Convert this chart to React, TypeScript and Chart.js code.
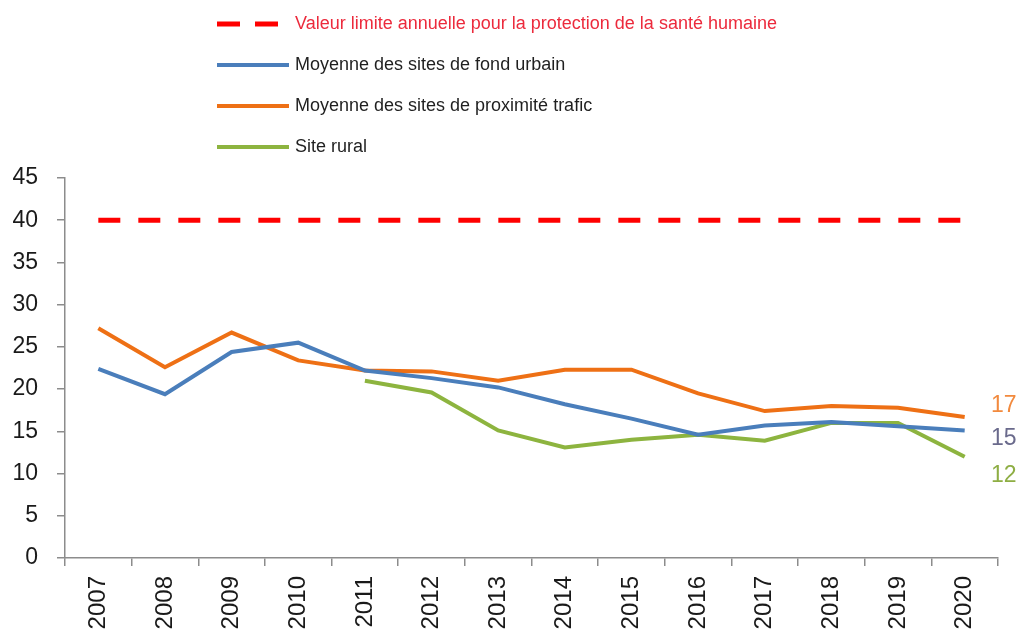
import React, { useEffect, useRef } from 'react';
import { Chart, registerables } from 'chart.js';
Chart.register(...registerables);

const years = ['2007', '2008', '2009', '2010', '2011', '2012', '2013', '2014', '2015', '2016', '2017', '2018', '2019', '2020'];
const limiteAnnuelle = [40, 40, 40, 40, 40, 40, 40, 40, 40, 40, 40, 40, 40, 40];
const fondUrbain = [22.4, 19.4, 24.4, 25.5, 22.2, 21.3, 20.2, 18.2, 16.5, 14.6, 15.7, 16.1, 15.6, 15.1];
const proximiteTrafic = [27.2, 22.6, 26.7, 23.4, 22.2, 22.1, 21.0, 22.3, 22.3, 19.5, 17.4, 18.0, 17.8, 16.7];
const siteRural = [null, null, null, null, 21.0, 19.6, 15.1, 13.1, 14.0, 14.6, 13.9, 16.0, 16.0, 12.0];
const yTicks = [0, 5, 10, 15, 20, 25, 30, 35, 40, 45];
const endLabels = ['17', '15', '12'];

const legendLabels = [
  'Valeur limite annuelle pour la protection de la santé humaine',
  'Moyenne des sites de fond urbain',
  'Moyenne des sites de proximité trafic',
  'Site rural',
];

const RED = '#ff0000';
const BLUE = '#4a7ebb';
const ORANGE = '#ee7015';
const GREEN = '#8db43f';

const overlay = {
  id: 'overlay',
  afterDraw(chart: any) {
    const ctx = chart.ctx as CanvasRenderingContext2D;
    const y = chart.scales.y;
    const area = chart.chartArea;
    // legend
    const rowsY = [24, 65, 106, 147];
    const sampleColors = [RED, BLUE, ORANGE, GREEN];
    const textColors = ['#ec2a3c', '#1f1f1f', '#1f1f1f', '#1f1f1f'];
    ctx.save();
    ctx.font = '18px "Liberation Sans", Arial, sans-serif';
    ctx.textBaseline = 'middle';
    ctx.textAlign = 'left';
    legendLabels.forEach((lbl, i) => {
      const ry = rowsY[i];
      ctx.strokeStyle = sampleColors[i];
      ctx.lineCap = 'butt';
      if (i === 0) {
        ctx.lineWidth = 5;
        ctx.setLineDash([23, 15]);
        ctx.beginPath();
        ctx.moveTo(217, ry);
        ctx.lineTo(280, ry);
        ctx.stroke();
        ctx.setLineDash([]);
      } else {
        ctx.lineWidth = 4;
        ctx.beginPath();
        ctx.moveTo(217, ry);
        ctx.lineTo(289, ry);
        ctx.stroke();
      }
      ctx.fillStyle = textColors[i];
      ctx.fillText(lbl, 295, ry);
    });
    // end labels
    const lastIdx = years.length - 1;
    const endData = [proximiteTrafic[lastIdx], fondUrbain[lastIdx], siteRural[lastIdx] as number];
    const endOffsets = [-11, 8, 19];
    const endColors = ['#f28a3e', '#6a6a8c', '#8eae44'];
    ctx.font = '23px "Liberation Sans", Arial, sans-serif';
    endLabels.forEach((t, i) => {
      ctx.fillStyle = endColors[i];
      ctx.fillText(t, area.right - 7, y.getPixelForValue(endData[i]) + endOffsets[i]);
    });
    ctx.restore();
  },
};

export default function App() {
  const ref = useRef<HTMLCanvasElement>(null);
  useEffect(() => {
    const chart = new Chart(ref.current!, {
      type: 'line',
      data: {
        labels: years,
        datasets: [
          { label: legendLabels[0], data: limiteAnnuelle, borderColor: RED, borderWidth: 5, borderDash: [22, 18], pointRadius: 0, tension: 0 },
          { label: legendLabels[1], data: fondUrbain, borderColor: BLUE, borderWidth: 4, pointRadius: 0, tension: 0 },
          { label: legendLabels[2], data: proximiteTrafic, borderColor: ORANGE, borderWidth: 4, pointRadius: 0, tension: 0 },
          { label: legendLabels[3], data: siteRural, borderColor: GREEN, borderWidth: 4, pointRadius: 0, tension: 0, spanGaps: false },
        ],
      },
      options: {
        animation: false,
        responsive: false,
        layout: { padding: { top: 178, right: 18, left: 0, bottom: 0 } },
        plugins: { legend: { display: false }, tooltip: { enabled: false } },
        scales: {
          x: {
            offset: true,
            grid: { offset: true, drawOnChartArea: false, drawTicks: true, tickLength: 8, color: '#8c8c8c', lineWidth: 1.5 },
            border: { color: '#8c8c8c', width: 1.5 },
            ticks: { minRotation: 90, maxRotation: 90, autoSkip: false, padding: 10, color: '#1a1a1a', font: { family: '"Liberation Sans", Arial, sans-serif', size: 24 } },
            afterFit: (s: any) => { s.height = 72; },
          },
          y: {
            min: 0,
            max: 45,
            afterBuildTicks: (s: any) => { s.ticks = yTicks.map((v) => ({ value: v })); },
            grid: { drawOnChartArea: false, drawTicks: true, tickLength: 8, color: '#8c8c8c', lineWidth: 1.5 },
            border: { color: '#8c8c8c', width: 1.5 },
            ticks: { padding: 19, color: '#1a1a1a', font: { family: '"Liberation Sans", Arial, sans-serif', size: 23 } },
            afterFit: (s: any) => { s.width = 65; },
          },
        },
      },
      plugins: [overlay],
    });
    return () => chart.destroy();
  }, []);
  return (
    <div style={{ position: 'fixed', left: 0, top: 0, width: 1016, height: 630, background: '#fff' }}>
      <canvas ref={ref} width={1016} height={630} style={{ width: 1016, height: 630, display: 'block' }} />
    </div>
  );
}
